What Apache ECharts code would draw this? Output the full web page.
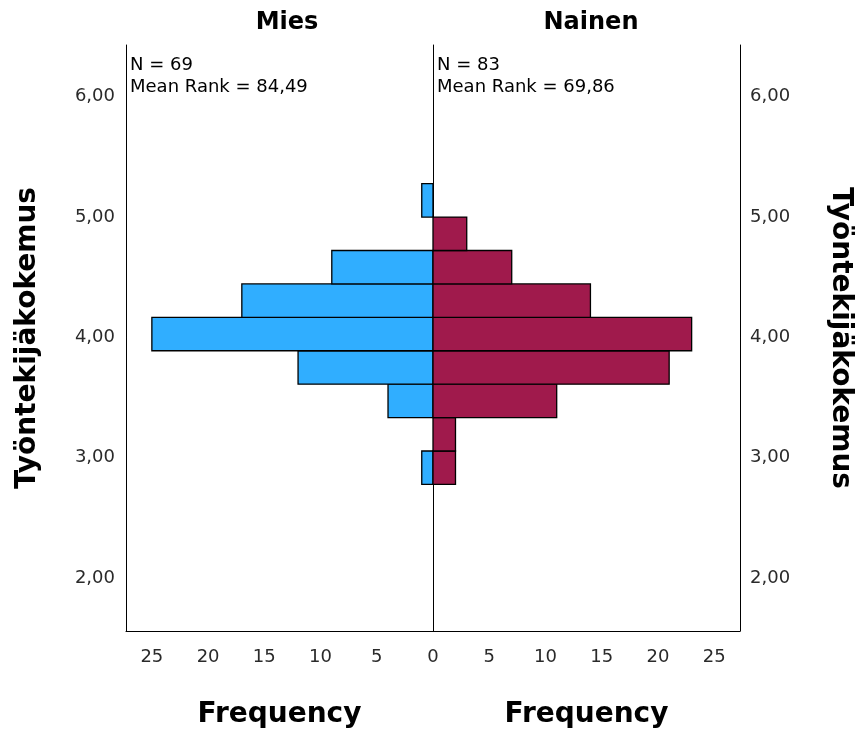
<!DOCTYPE html>
<html><head><meta charset="utf-8">
<script src="https://cdn.jsdelivr.net/npm/echarts@6/dist/echarts.min.js"></script>
<style>html,body{margin:0;padding:0;background:#fff}#c{width:861px;height:733px}</style>
</head><body><div id="c"></div>
<script>
// Bin edges of the histogram (Työntekijäkokemus)
const binLow  = [2.778, 3.056, 3.333, 3.611, 3.889, 4.167, 4.444, 4.722, 5.000];
const binHigh = [3.056, 3.333, 3.611, 3.889, 4.167, 4.444, 4.722, 5.000, 5.278];
// Frequencies per bin
const miesCounts   = [1, 0, 4, 12, 25, 17, 9, 0, 1];
const nainenCounts = [2, 2, 11, 21, 23, 14, 7, 3, 0];
const yTicks = [2, 3, 4, 5, 6];
const xTicksLeft = [0, 5, 10, 15, 20, 25];
const xTicksRight = [5, 10, 15, 20, 25];
const groups = ['Mies', 'Nainen'];
const stats = [['N = 69', 'Mean Rank = 84,49'], ['N = 83', 'Mean Rank = 69,86']];

const FONT = '"DejaVu Sans", sans-serif';
const yMin = 1.56, yMax = 6.43, xMax = 27.3;

function mk(counts) {
  const d = [];
  counts.forEach((c, i) => { if (c > 0) d.push([binLow[i], binHigh[i], c]); });
  return d;
}
function render(color) {
  return function (params, api) {
    const lo = api.value(0), hi = api.value(1), c = api.value(2);
    const a = api.coord([0, hi]);
    const b = api.coord([c, lo]);
    return {
      type: 'rect',
      shape: { x: Math.min(a[0], b[0]), y: a[1], width: Math.abs(b[0] - a[0]), height: b[1] - a[1] },
      style: { fill: color, stroke: '#000', lineWidth: 1.3 }
    };
  };
}
const axisLineStyle = { show: true, onZero: false, lineStyle: { color: '#000', width: 1 } };
const labelStyle = { color: '#2a2a2a', fontFamily: FONT, fontSize: 18 };
const nameStyle = { color: '#000', fontFamily: FONT, fontSize: 28, fontWeight: 'bold' };
const fmtY = v => v.toFixed(2).replace('.', ',');
const titleStyle = { fontFamily: FONT, fontSize: 24, fontWeight: 'bold', color: '#000' };

const chart = echarts.init(document.getElementById('c'));
chart.setOption({
  animation: false,
  title: [
    { text: groups[0], left: 282, top: 6, textAlign: 'center', textStyle: titleStyle },
    { text: groups[1], left: 586, top: 6, textAlign: 'center', textStyle: titleStyle }
  ],
  grid: [
    { left: 126, width: 307, top: 45, height: 586, outerBoundsMode: 'none', containLabel: false },
    { left: 433, width: 307, top: 45, height: 586, outerBoundsMode: 'none', containLabel: false }
  ],
  xAxis: [
    { type: 'value', gridIndex: 0, inverse: true, min: 0, max: xMax,
      axisLine: axisLineStyle, axisTick: { show: false }, splitLine: { show: false },
      axisLabel: Object.assign({ customValues: xTicksLeft, margin: 17 }, labelStyle),
      name: 'Frequency', nameLocation: 'middle', nameGap: 70, nameTextStyle: nameStyle },
    { type: 'value', gridIndex: 1, min: 0, max: xMax,
      axisLine: axisLineStyle, axisTick: { show: false }, splitLine: { show: false },
      axisLabel: Object.assign({ customValues: xTicksRight, margin: 17 }, labelStyle),
      name: 'Frequency', nameLocation: 'middle', nameGap: 70, nameTextStyle: nameStyle }
  ],
  yAxis: [
    { type: 'value', gridIndex: 0, position: 'left', min: yMin, max: yMax,
      axisLine: axisLineStyle, axisTick: { show: false }, splitLine: { show: false },
      axisLabel: Object.assign({ customValues: yTicks, formatter: fmtY, margin: 11 }, labelStyle),
      name: 'Työntekijäkokemus', nameLocation: 'middle', nameRotate: 90, nameGap: 84, nameTextStyle: nameStyle },
    { type: 'value', gridIndex: 1, position: 'right', min: yMin, max: yMax,
      axisLine: axisLineStyle, axisTick: { show: false }, splitLine: { show: false },
      axisLabel: Object.assign({ customValues: yTicks, formatter: fmtY, margin: 10 }, labelStyle),
      name: 'Työntekijäkokemus', nameLocation: 'middle', nameRotate: -90, nameGap: 86, nameTextStyle: nameStyle },
    { type: 'value', gridIndex: 1, position: 'left', min: yMin, max: yMax,
      axisLine: axisLineStyle, axisTick: { show: false }, splitLine: { show: false }, axisLabel: { show: false } }
  ],
  series: [
    { type: 'custom', xAxisIndex: 0, yAxisIndex: 0, encode: { x: 2, y: [0, 1] },
      renderItem: render('#30AEFF'), data: mk(miesCounts) },
    { type: 'custom', xAxisIndex: 1, yAxisIndex: 1, encode: { x: 2, y: [0, 1] },
      renderItem: render('#A01A4C'), data: mk(nainenCounts) }
  ],
  graphic: [
    { type: 'text', left: 130, top: 54, style: { text: stats[0].join('\n'), font: '18px ' + FONT, fill: '#000', lineHeight: 22 } },
    { type: 'text', left: 437, top: 54, style: { text: stats[1].join('\n'), font: '18px ' + FONT, fill: '#000', lineHeight: 22 } }
  ]
});
</script></body></html>
